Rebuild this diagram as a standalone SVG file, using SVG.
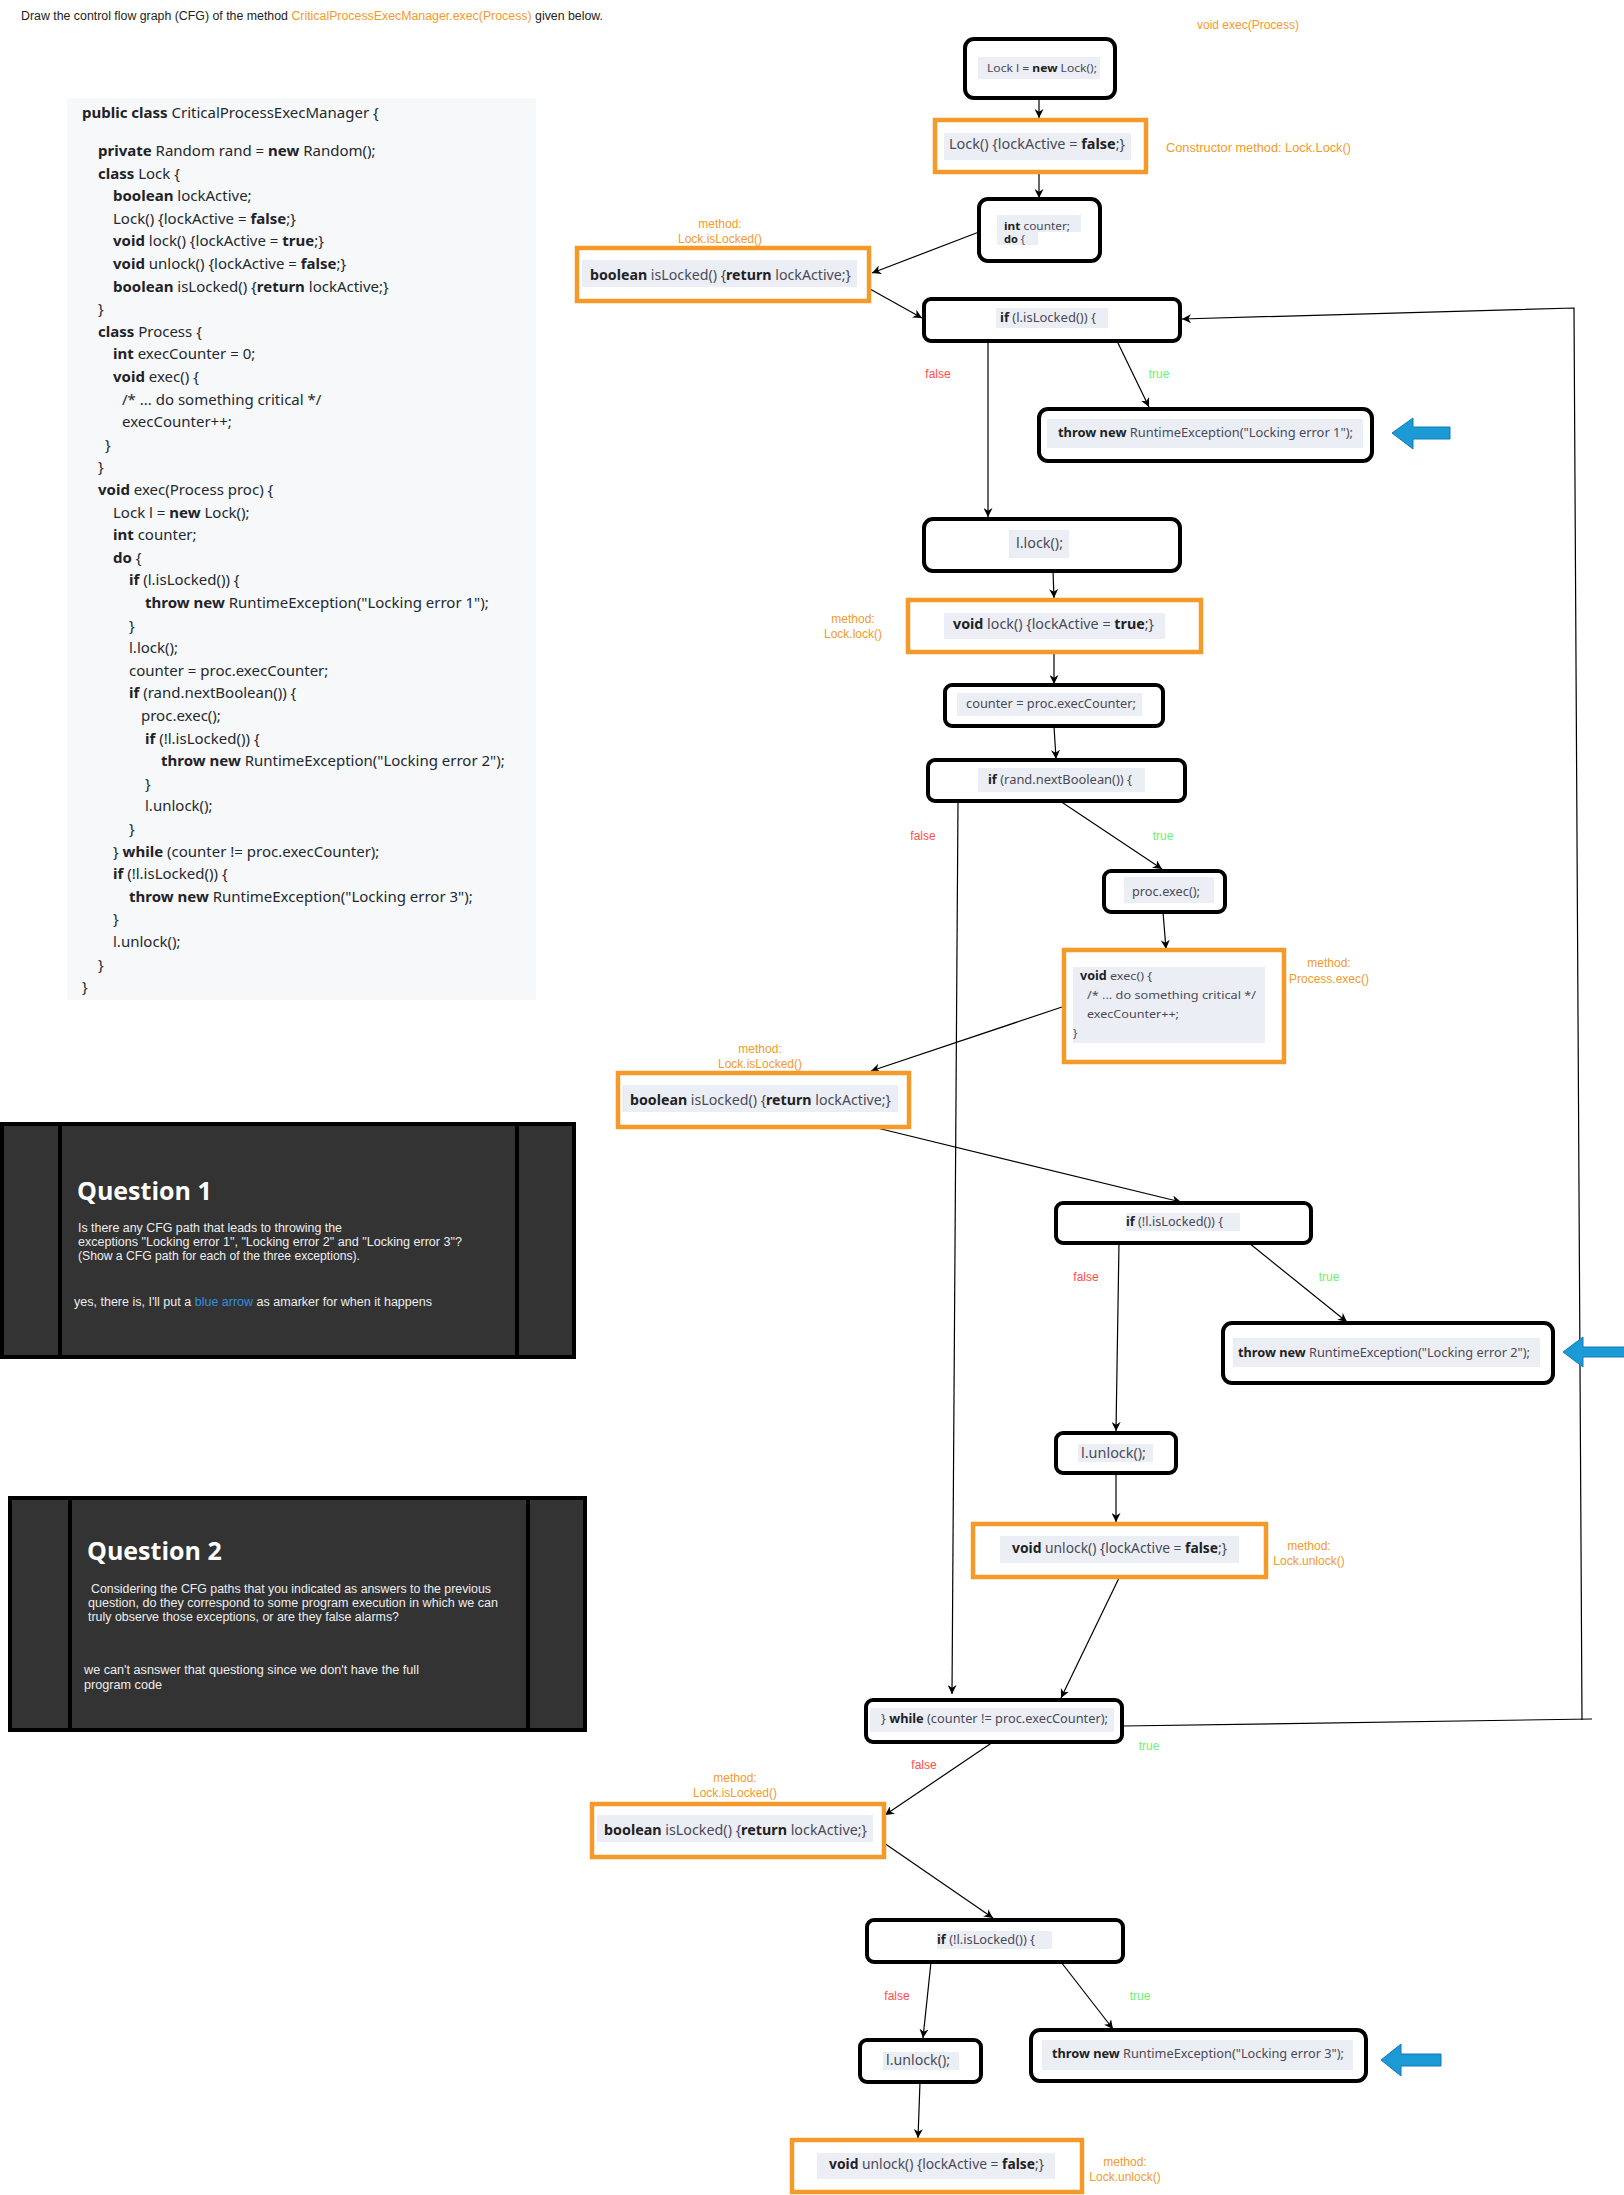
<svg xmlns="http://www.w3.org/2000/svg" width="1624" height="2195" viewBox="0 0 1624 2195">
<defs>
<marker id="ah" viewBox="0 0 10 10" refX="10" refY="5" markerWidth="9" markerHeight="9" markerUnits="userSpaceOnUse" orient="auto"><path d="M0,0 L10,5 L0,10 L3,5z" fill="#000"/></marker>
<style>
.code{font-family:"Noto Sans","Open Sans",sans-serif;font-size:15px;fill:#24292f}
.b{font-weight:700;fill:#1f2328}
.box{fill:#fff;stroke:#000;stroke-width:4}
.obox{fill:#fff;stroke:#f39a2b;stroke-width:4.5}
.tbg{fill:#eceef6}
.nt{font-family:"Noto Sans","Open Sans",sans-serif;fill:#4a4a55}
.nb{font-weight:700;fill:#222}
.lbl{font-family:"Liberation Sans",Arial,sans-serif;font-size:12px;fill:#f39a2b}
.f{font-family:"Liberation Sans",Arial,sans-serif;font-size:12px;fill:#ff4d4d}
.t{font-family:"Liberation Sans",Arial,sans-serif;font-size:12px;fill:#6ef06e}
.edge{fill:none;stroke:#000;stroke-width:1.2}
.qbox{fill:#333;stroke:#000;stroke-width:4}
.qdiv{stroke:#000;stroke-width:4}
.qh{font-family:"Open Sans","Noto Sans",sans-serif;font-weight:700;font-size:25px;fill:#fff}
.qt{font-family:"Liberation Sans",Arial,sans-serif;font-size:12.5px;fill:#eee}
.blue{fill:#1b9ad6;stroke:#1479b5;stroke-width:1}
</style>
</defs>
<rect width="1624" height="2195" fill="#fff"/>

<text x="21" y="20" font-family="Liberation Sans, Arial, sans-serif" font-size="12.5" fill="#222" textLength="582" lengthAdjust="spacingAndGlyphs">Draw the control flow graph (CFG) of the method <tspan fill="#f39a2b">CriticalProcessExecManager.exec(Process)</tspan> given below.</text>

<g id="code-panel">
<rect x="67" y="98" width="469" height="902" fill="#f6f8fa"/>
<text class="code" x="82" y="118"><tspan class="b">public class</tspan> CriticalProcessExecManager {</text>
<text class="code" x="98" y="156"><tspan class="b">private</tspan> Random rand = <tspan class="b">new</tspan> Random();</text>
<text class="code" x="98" y="178.6"><tspan class="b">class</tspan> Lock {</text>
<text class="code" x="113" y="201.2"><tspan class="b">boolean</tspan> lockActive;</text>
<text class="code" x="113" y="223.8">Lock() {lockActive = <tspan class="b">false</tspan>;}</text>
<text class="code" x="113" y="246.4"><tspan class="b">void</tspan> lock() {lockActive = <tspan class="b">true</tspan>;}</text>
<text class="code" x="113" y="269"><tspan class="b">void</tspan> unlock() {lockActive = <tspan class="b">false</tspan>;}</text>
<text class="code" x="113" y="291.6"><tspan class="b">boolean</tspan> isLocked() {<tspan class="b">return</tspan> lockActive;}</text>
<text class="code" x="98" y="314.2">}</text>
<text class="code" x="98" y="336.8"><tspan class="b">class</tspan> Process {</text>
<text class="code" x="113" y="359.4"><tspan class="b">int</tspan> execCounter = 0;</text>
<text class="code" x="113" y="382"><tspan class="b">void</tspan> exec() {</text>
<text class="code" x="122" y="404.6">/* ... do something critical */</text>
<text class="code" x="122" y="427.2">execCounter++;</text>
<text class="code" x="105" y="449.8">}</text>
<text class="code" x="98" y="472.4">}</text>
<text class="code" x="98" y="495"><tspan class="b">void</tspan> exec(Process proc) {</text>
<text class="code" x="113" y="517.6">Lock l = <tspan class="b">new</tspan> Lock();</text>
<text class="code" x="113" y="540.2"><tspan class="b">int</tspan> counter;</text>
<text class="code" x="113" y="562.8"><tspan class="b">do</tspan> {</text>
<text class="code" x="129" y="585.4"><tspan class="b">if</tspan> (l.isLocked()) {</text>
<text class="code" x="145" y="608"><tspan class="b">throw new</tspan> RuntimeException("Locking error 1");</text>
<text class="code" x="129" y="630.6">}</text>
<text class="code" x="129" y="653.2">l.lock();</text>
<text class="code" x="129" y="675.8">counter = proc.execCounter;</text>
<text class="code" x="129" y="698.4"><tspan class="b">if</tspan> (rand.nextBoolean()) {</text>
<text class="code" x="141" y="721">proc.exec();</text>
<text class="code" x="145" y="743.6"><tspan class="b">if</tspan> (!l.isLocked()) {</text>
<text class="code" x="161" y="766.2"><tspan class="b">throw new</tspan> RuntimeException("Locking error 2");</text>
<text class="code" x="145" y="788.8">}</text>
<text class="code" x="145" y="811.4">l.unlock();</text>
<text class="code" x="129" y="834">}</text>
<text class="code" x="113" y="856.6">} <tspan class="b">while</tspan> (counter != proc.execCounter);</text>
<text class="code" x="113" y="879.2"><tspan class="b">if</tspan> (!l.isLocked()) {</text>
<text class="code" x="129" y="901.8"><tspan class="b">throw new</tspan> RuntimeException("Locking error 3");</text>
<text class="code" x="113" y="924.4">}</text>
<text class="code" x="113" y="947">l.unlock();</text>
<text class="code" x="98" y="969.6">}</text>
<text class="code" x="82" y="992.2">}</text>
</g>

<g id="question-1">
<rect class="qbox" x="2" y="1124" width="572" height="233"/>
<line class="qdiv" x1="60" y1="1124" x2="60" y2="1357"/>
<line class="qdiv" x1="517" y1="1124" x2="517" y2="1357"/>
<text class="qh" x="77" y="1200">Question 1</text>
<text class="qt" x="78" y="1232" textLength="264" lengthAdjust="spacingAndGlyphs">Is there any CFG path that leads to throwing the</text>
<text class="qt" x="78" y="1246" textLength="384" lengthAdjust="spacingAndGlyphs">exceptions "Locking error 1", "Locking error 2" and "Locking error 3"?</text>
<text class="qt" x="78" y="1260" textLength="282" lengthAdjust="spacingAndGlyphs">(Show a CFG path for each of the three exceptions).</text>
<text class="qt" x="74" y="1306" textLength="358" lengthAdjust="spacingAndGlyphs">yes, there is, I'll put a <tspan fill="#2f8fe6">blue arrow</tspan> as amarker for when it happens</text>
</g>

<g id="question-2">
<rect class="qbox" x="10" y="1498" width="575" height="232"/>
<line class="qdiv" x1="70" y1="1498" x2="70" y2="1730"/>
<line class="qdiv" x1="528" y1="1498" x2="528" y2="1730"/>
<text class="qh" x="87" y="1560">Question 2</text>
<text class="qt" x="91" y="1593" textLength="400" lengthAdjust="spacingAndGlyphs">Considering the CFG paths that you indicated as answers to the previous</text>
<text class="qt" x="88" y="1607" textLength="410" lengthAdjust="spacingAndGlyphs">question, do they correspond to some program execution in which we can</text>
<text class="qt" x="88" y="1621" textLength="311" lengthAdjust="spacingAndGlyphs">truly observe those exceptions, or are they false alarms?</text>
<text class="qt" x="84" y="1674" textLength="335" lengthAdjust="spacingAndGlyphs">we can't asnswer that questiong since we don't have the full</text>
<text class="qt" x="84" y="1689" textLength="78" lengthAdjust="spacingAndGlyphs">program code</text>
</g>

<g id="labels">
<text class="lbl" x="1197" y="29" textLength="102" lengthAdjust="spacingAndGlyphs">void exec(Process)</text>
<text class="lbl" x="1166" y="152" textLength="185" lengthAdjust="spacingAndGlyphs">Constructor  method: Lock.Lock()</text>
<text class="lbl" x="720" y="228" text-anchor="middle">method:</text>
<text class="lbl" x="720" y="243" text-anchor="middle">Lock.isLocked()</text>
<text class="lbl" x="853" y="623" text-anchor="middle">method:</text>
<text class="lbl" x="853" y="638" text-anchor="middle">Lock.lock()</text>
<text class="lbl" x="1329" y="967" text-anchor="middle">method:</text>
<text class="lbl" x="1329" y="983" text-anchor="middle">Process.exec()</text>
<text class="lbl" x="760" y="1053" text-anchor="middle">method:</text>
<text class="lbl" x="760" y="1068" text-anchor="middle">Lock.isLocked()</text>
<text class="lbl" x="1309" y="1550" text-anchor="middle">method:</text>
<text class="lbl" x="1309" y="1565" text-anchor="middle">Lock.unlock()</text>
<text class="lbl" x="735" y="1782" text-anchor="middle">method:</text>
<text class="lbl" x="735" y="1797" text-anchor="middle">Lock.isLocked()</text>
<text class="lbl" x="1125" y="2166" text-anchor="middle">method:</text>
<text class="lbl" x="1125" y="2181" text-anchor="middle">Lock.unlock()</text>
<text class="f" x="938" y="378" text-anchor="middle">false</text>
<text class="t" x="1159" y="378" text-anchor="middle">true</text>
<text class="f" x="923" y="840" text-anchor="middle">false</text>
<text class="t" x="1163" y="840" text-anchor="middle">true</text>
<text class="f" x="1086" y="1281" text-anchor="middle">false</text>
<text class="t" x="1329" y="1281" text-anchor="middle">true</text>
<text class="t" x="1149" y="1750" text-anchor="middle">true</text>
<text class="f" x="924" y="1769" text-anchor="middle">false</text>
<text class="f" x="897" y="2000" text-anchor="middle">false</text>
<text class="t" x="1140" y="2000" text-anchor="middle">true</text>
</g>

<g id="connectors">
<path class="edge" d="M1039,99 L1039,118" marker-end="url(#ah)"/>
<path class="edge" d="M1039,173 L1039,198" marker-end="url(#ah)"/>
<path class="edge" d="M979,232 L872,273" marker-end="url(#ah)"/>
<path class="edge" d="M870,289 L922,318" marker-end="url(#ah)"/>
<path class="edge" d="M988,341 L988,517" marker-end="url(#ah)"/>
<path class="edge" d="M1117,341 L1149,407" marker-end="url(#ah)"/>
<path class="edge" d="M1053,571 L1054,598" marker-end="url(#ah)"/>
<path class="edge" d="M1054,653 L1054,684" marker-end="url(#ah)"/>
<path class="edge" d="M1054,726 L1056,759" marker-end="url(#ah)"/>
<path class="edge" d="M958,801 L952,1694" marker-end="url(#ah)"/>
<path class="edge" d="M1060,801 L1162,869" marker-end="url(#ah)"/>
<path class="edge" d="M1163,912 L1166,949" marker-end="url(#ah)"/>
<path class="edge" d="M1062,1007 L871,1071" marker-end="url(#ah)"/>
<path class="edge" d="M873,1127 L1181,1202" marker-end="url(#ah)"/>
<path class="edge" d="M1119,1243 L1116,1431" marker-end="url(#ah)"/>
<path class="edge" d="M1249,1243 L1347,1322" marker-end="url(#ah)"/>
<path class="edge" d="M1116,1473 L1116,1522" marker-end="url(#ah)"/>
<path class="edge" d="M1119,1578 L1061,1698" marker-end="url(#ah)"/>
<path class="edge" d="M1123,1726 L1592,1719"/>
<path class="edge" d="M1582,1720 L1574,308 L1182,319" marker-end="url(#ah)"/>
<path class="edge" d="M993,1742 L885,1815" marker-end="url(#ah)"/>
<path class="edge" d="M884,1843 L993,1918" marker-end="url(#ah)"/>
<path class="edge" d="M931,1962 L923,2038" marker-end="url(#ah)"/>
<path class="edge" d="M1061,1962 L1113,2029" marker-end="url(#ah)"/>
<path class="edge" d="M920,2082 L918,2138" marker-end="url(#ah)"/>
</g>

<g id="node-lock-new">
<rect class="box" x="965" y="39" width="150" height="59" rx="9"/>
<rect class="tbg" x="978" y="57" width="122" height="22"/>
<text class="nt" x="987" y="72" font-size="11" textLength="110" lengthAdjust="spacingAndGlyphs">Lock l = <tspan class="nb">new</tspan> Lock();</text>
</g>
<g id="node-lock-ctor">
<rect class="obox" x="935" y="120" width="211" height="52"/>
<rect class="tbg" x="944" y="133" width="187" height="27"/>
<text class="nt" x="949" y="149" font-size="14" textLength="176" lengthAdjust="spacingAndGlyphs">Lock() {lockActive = <tspan class="nb">false</tspan>;}</text>
</g>
<g id="node-int-counter">
<rect class="box" x="979" y="199" width="121" height="62" rx="9"/>
<rect class="tbg" x="997" y="215" width="84" height="17"/>
<rect class="tbg" x="997" y="232" width="41" height="13"/>
<text class="nt" x="1004" y="230" font-size="11" textLength="66" lengthAdjust="spacingAndGlyphs"><tspan class="nb">int</tspan> counter;</text>
<text class="nt" x="1004" y="243" font-size="11"><tspan class="nb">do</tspan> {</text>
</g>
<g id="node-islocked-1">
<rect class="obox" x="577" y="248" width="292" height="53"/>
<rect class="tbg" x="582" y="260" width="275" height="27"/>
<text class="nt" x="590" y="280" font-size="14" textLength="261" lengthAdjust="spacingAndGlyphs"><tspan class="nb">boolean</tspan> isLocked() {<tspan class="nb">return</tspan> lockActive;}</text>
</g>
<g id="node-if-locked">
<rect class="box" x="924" y="299" width="256" height="42" rx="7"/>
<rect class="tbg" x="996" y="308" width="112" height="20"/>
<text class="nt" x="1000" y="322" font-size="12" textLength="96" lengthAdjust="spacingAndGlyphs"><tspan class="nb">if</tspan> (l.isLocked()) {</text>
</g>
<g id="node-throw-1">
<rect class="box" x="1039" y="409" width="333" height="52" rx="9"/>
<rect class="tbg" x="1047" y="419" width="316" height="29"/>
<text class="nt" x="1058" y="437" font-size="12.5" textLength="295" lengthAdjust="spacingAndGlyphs"><tspan class="nb">throw new</tspan> RuntimeException("Locking error 1");</text>
</g>
<g id="node-lock-call">
<rect class="box" x="924" y="519" width="256" height="52" rx="9"/>
<rect class="tbg" x="1009" y="530" width="60" height="28"/>
<text class="nt" x="1016" y="548" font-size="14" textLength="47" lengthAdjust="spacingAndGlyphs">l.lock();</text>
</g>
<g id="node-lock-method">
<rect class="obox" x="908" y="600" width="293" height="52"/>
<rect class="tbg" x="944" y="613" width="221" height="26"/>
<text class="nt" x="953" y="629" font-size="14" textLength="201" lengthAdjust="spacingAndGlyphs"><tspan class="nb">void</tspan> lock() {lockActive = <tspan class="nb">true</tspan>;}</text>
</g>
<g id="node-counter">
<rect class="box" x="945" y="685" width="218" height="41" rx="7"/>
<rect class="tbg" x="957" y="693" width="185" height="23"/>
<text class="nt" x="966" y="708" font-size="12" textLength="170" lengthAdjust="spacingAndGlyphs">counter = proc.execCounter;</text>
</g>
<g id="node-if-rand">
<rect class="box" x="928" y="760" width="257" height="41" rx="7"/>
<rect class="tbg" x="978" y="768" width="167" height="24"/>
<text class="nt" x="988" y="784" font-size="12" textLength="144" lengthAdjust="spacingAndGlyphs"><tspan class="nb">if</tspan> (rand.nextBoolean()) {</text>
</g>
<g id="node-proc-exec">
<rect class="box" x="1104" y="871" width="121" height="41" rx="7"/>
<rect class="tbg" x="1124" y="877" width="90" height="26"/>
<text class="nt" x="1132" y="896" font-size="12" textLength="68" lengthAdjust="spacingAndGlyphs">proc.exec();</text>
</g>
<g id="node-exec-method">
<rect class="obox" x="1064" y="950" width="220" height="112"/>
<rect class="tbg" x="1073" y="967" width="192" height="76"/>
<text class="nt" x="1080" y="980" font-size="11.5" textLength="72" lengthAdjust="spacingAndGlyphs"><tspan class="nb">void</tspan> exec() {</text>
<text class="nt" x="1087" y="999" font-size="11.5" textLength="169" lengthAdjust="spacingAndGlyphs">/* ... do something critical */</text>
<text class="nt" x="1087" y="1018" font-size="11.5" textLength="92" lengthAdjust="spacingAndGlyphs">execCounter++;</text>
<text class="nt" x="1073" y="1037" font-size="11.5">}</text>
</g>
<g id="node-islocked-2">
<rect class="obox" x="618" y="1073" width="291" height="54"/>
<rect class="tbg" x="622" y="1085" width="276" height="27"/>
<text class="nt" x="630" y="1105" font-size="14" textLength="261" lengthAdjust="spacingAndGlyphs"><tspan class="nb">boolean</tspan> isLocked() {<tspan class="nb">return</tspan> lockActive;}</text>
</g>
<g id="node-if-notlocked-1">
<rect class="box" x="1056" y="1203" width="255" height="40" rx="7"/>
<rect class="tbg" x="1126" y="1213" width="114" height="18"/>
<text class="nt" x="1126" y="1226" font-size="12" textLength="97" lengthAdjust="spacingAndGlyphs"><tspan class="nb">if</tspan> (!l.isLocked()) {</text>
</g>
<g id="node-throw-2">
<rect class="box" x="1223" y="1323" width="330" height="60" rx="9"/>
<rect class="tbg" x="1233" y="1338" width="307" height="29"/>
<text class="nt" x="1238" y="1357" font-size="12.5" textLength="292" lengthAdjust="spacingAndGlyphs"><tspan class="nb">throw new</tspan> RuntimeException("Locking error 2");</text>
</g>
<g id="node-unlock-call-1">
<rect class="box" x="1056" y="1433" width="120" height="40" rx="7"/>
<rect class="tbg" x="1078" y="1444" width="75" height="18"/>
<text class="nt" x="1081" y="1458" font-size="14" textLength="65" lengthAdjust="spacingAndGlyphs">l.unlock();</text>
</g>
<g id="node-unlock-method-1">
<rect class="obox" x="973" y="1524" width="293" height="53"/>
<rect class="tbg" x="1000" y="1536" width="239" height="27"/>
<text class="nt" x="1012" y="1553" font-size="14" textLength="215" lengthAdjust="spacingAndGlyphs"><tspan class="nb">void</tspan> unlock() {lockActive = <tspan class="nb">false</tspan>;}</text>
</g>
<g id="node-while">
<rect class="box" x="866" y="1700" width="256" height="42" rx="7"/>
<rect class="tbg" x="870" y="1708" width="244" height="24"/>
<text class="nt" x="881" y="1723" font-size="12" textLength="227" lengthAdjust="spacingAndGlyphs">} <tspan class="nb">while</tspan> (counter != proc.execCounter);</text>
</g>
<g id="node-islocked-3">
<rect class="obox" x="592" y="1804" width="292" height="53"/>
<rect class="tbg" x="597" y="1815" width="276" height="27"/>
<text class="nt" x="604" y="1835" font-size="14" textLength="263" lengthAdjust="spacingAndGlyphs"><tspan class="nb">boolean</tspan> isLocked() {<tspan class="nb">return</tspan> lockActive;}</text>
</g>
<g id="node-if-notlocked-2">
<rect class="box" x="867" y="1920" width="256" height="42" rx="7"/>
<rect class="tbg" x="937" y="1931" width="115" height="18"/>
<text class="nt" x="937" y="1944" font-size="12" textLength="98" lengthAdjust="spacingAndGlyphs"><tspan class="nb">if</tspan> (!l.isLocked()) {</text>
</g>
<g id="node-unlock-call-2">
<rect class="box" x="860" y="2040" width="121" height="42" rx="7"/>
<rect class="tbg" x="883" y="2052" width="76" height="18"/>
<text class="nt" x="886" y="2065" font-size="14" textLength="64" lengthAdjust="spacingAndGlyphs">l.unlock();</text>
</g>
<g id="node-throw-3">
<rect class="box" x="1031" y="2030" width="335" height="51" rx="9"/>
<rect class="tbg" x="1042" y="2040" width="311" height="30"/>
<text class="nt" x="1052" y="2058" font-size="12.5" textLength="292" lengthAdjust="spacingAndGlyphs"><tspan class="nb">throw new</tspan> RuntimeException("Locking error 3");</text>
</g>
<g id="node-unlock-method-2">
<rect class="obox" x="792" y="2140" width="290" height="52"/>
<rect class="tbg" x="817" y="2153" width="238" height="26"/>
<text class="nt" x="829" y="2169" font-size="14" textLength="215" lengthAdjust="spacingAndGlyphs"><tspan class="nb">void</tspan> unlock() {lockActive = <tspan class="nb">false</tspan>;}</text>
</g>

<g id="blue-arrows">
<polygon class="blue" points="1392,433 1413,418 1413,427 1450,427 1450,439 1413,439 1413,449"/>
<polygon class="blue" points="1563,1352 1583,1337 1583,1347 1626,1347 1626,1357 1583,1357 1583,1367"/>
<polygon class="blue" points="1381,2060 1401,2044 1401,2054 1441,2054 1441,2066 1401,2066 1401,2076"/>
</g>
</svg>
